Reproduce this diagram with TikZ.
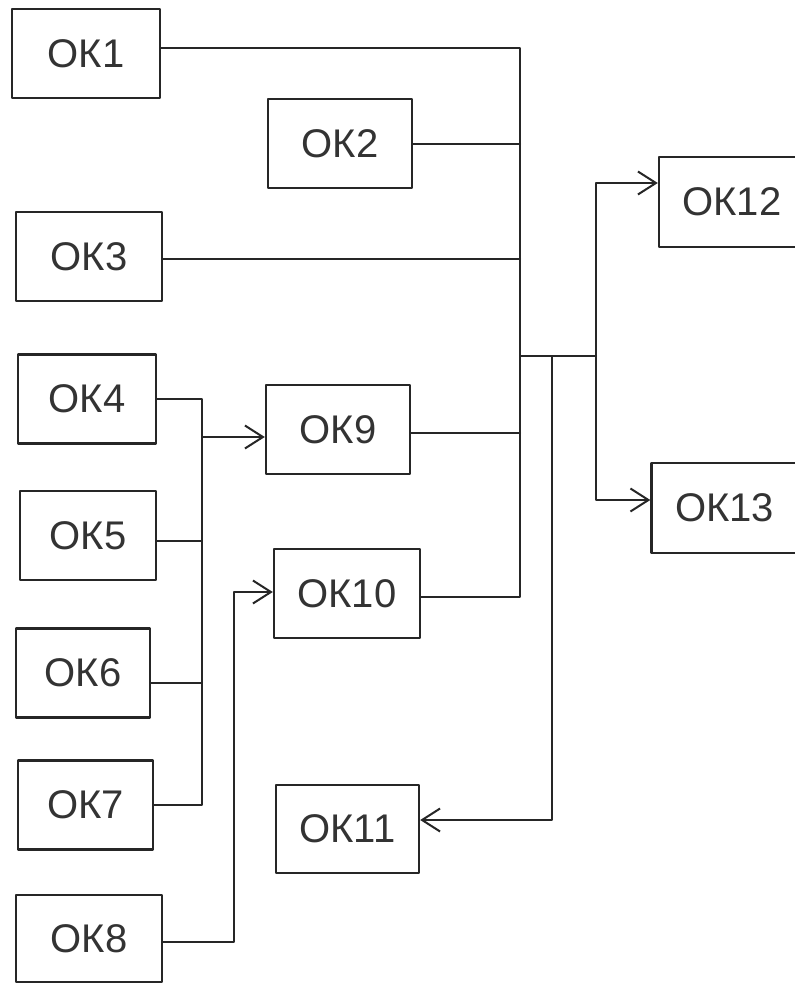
\documentclass[tikz,border=0pt]{standalone}
\usepackage{fontspec}
\setmainfont{Liberation Sans}
\usepackage{tikz}
\usetikzlibrary{arrows.meta}
\usetikzlibrary{calc}

\begin{document}
\begin{tikzpicture}[x=0.5pt, y=-0.5pt, line join=round, line cap=round,
        box_style/.style={rectangle, draw=black!85, line width=1.2pt, minimum height=44.5pt, inner sep=0pt, font=\fontsize{20}{24}\selectfont, text=black!80},
        edge_style/.style={draw=black!85, line width=1pt},
        arrow_style/.style={draw=black!85, line width=1pt, -{Straight Barb[length=9pt, width=11.5pt, line width=1pt]}}]

        \useasboundingbox (0,0) rectangle (795,985);
        \clip (0,0) rectangle (795,985);

        \node [box_style, minimum width=74pt](ok1) at (86,53.5) {ОК1};
        \node [box_style, minimum width=72pt](ok2) at (340,143.5) {ОК2};
        \node [box_style, minimum width=73pt](ok3) at (89,256.5) {ОК3};
        \node [box_style, minimum width=69pt](ok4) at (87,399) {ОК4};
        \node [box_style, minimum width=68pt](ok5) at (88,535.5) {ОК5};
        \node [box_style, minimum width=67pt](ok6) at (83,673) {ОК6};
        \node [box_style, minimum width=67.5pt](ok7) at (85.5,805) {ОК7};
        \node [box_style, minimum width=73pt, minimum height=43.5pt](ok8) at (89,938.5) {ОК8};
        \node [box_style, minimum width=72pt](ok9) at (338,429.5) {ОК9};
        \node [box_style, minimum width=73pt](ok10) at (347,593.5) {ОК10};
        \node [box_style, minimum width=71.5pt, minimum height=44pt](ok11) at (347.5,829) {ОК11};
        \node [box_style, minimum width=73pt, minimum height=45pt](ok12) at (732,202) {ОК12};
        \node [box_style, minimum width=73pt, minimum height=45pt](ok13) at (724.5,508) {ОК13};

        % main bus on the right
        \coordinate (bus) at (520,356);
        \coordinate (fork) at (596,356);
        \coordinate (tap) at (552,356);
        \draw [edge_style] ([yshift=3pt]ok1.east) -- ([yshift=3pt]ok1.east -| bus) -- ([yshift=-1.5pt]ok10.east -| bus) -- ([yshift=-1.5pt]ok10.east);
        \draw [edge_style] (ok2.east) -- (ok2.east -| bus);
        \draw [edge_style] ([yshift=-1pt]ok3.east) -- ([yshift=-1pt]ok3.east -| bus);
        \draw [edge_style] ([yshift=-1.5pt]ok9.east) -- ([yshift=-1.5pt]ok9.east -| bus);
        \draw [edge_style] (bus) -- (fork);
        \draw [arrow_style] (fork) |- ([yshift=9.5pt]ok12.west);
        \draw [arrow_style] (fork) |- ([yshift=4pt]ok13.west);
        \draw [arrow_style] (tap) |- ([yshift=4.5pt]ok11.east);

        % collector on the left
        \coordinate (join) at (202,437);
        \coordinate (lift) at (234,592);
        \draw [edge_style] (ok4.east) -- (ok4.east -| join) -- (ok7.east -| join) -- (ok7.east);
        \draw [edge_style] ([yshift=-2.5pt]ok5.east) -- ([yshift=-2.5pt]ok5.east -| join);
        \draw [edge_style] ([yshift=-5pt]ok6.east) -- ([yshift=-5pt]ok6.east -| join);
        \draw [arrow_style] (join) -- (join -| ok9.west);
        \draw [arrow_style] ([yshift=-1.5pt]ok8.east) -| (lift) -- (lift -| ok10.west);
\end{tikzpicture}
\end{document}
